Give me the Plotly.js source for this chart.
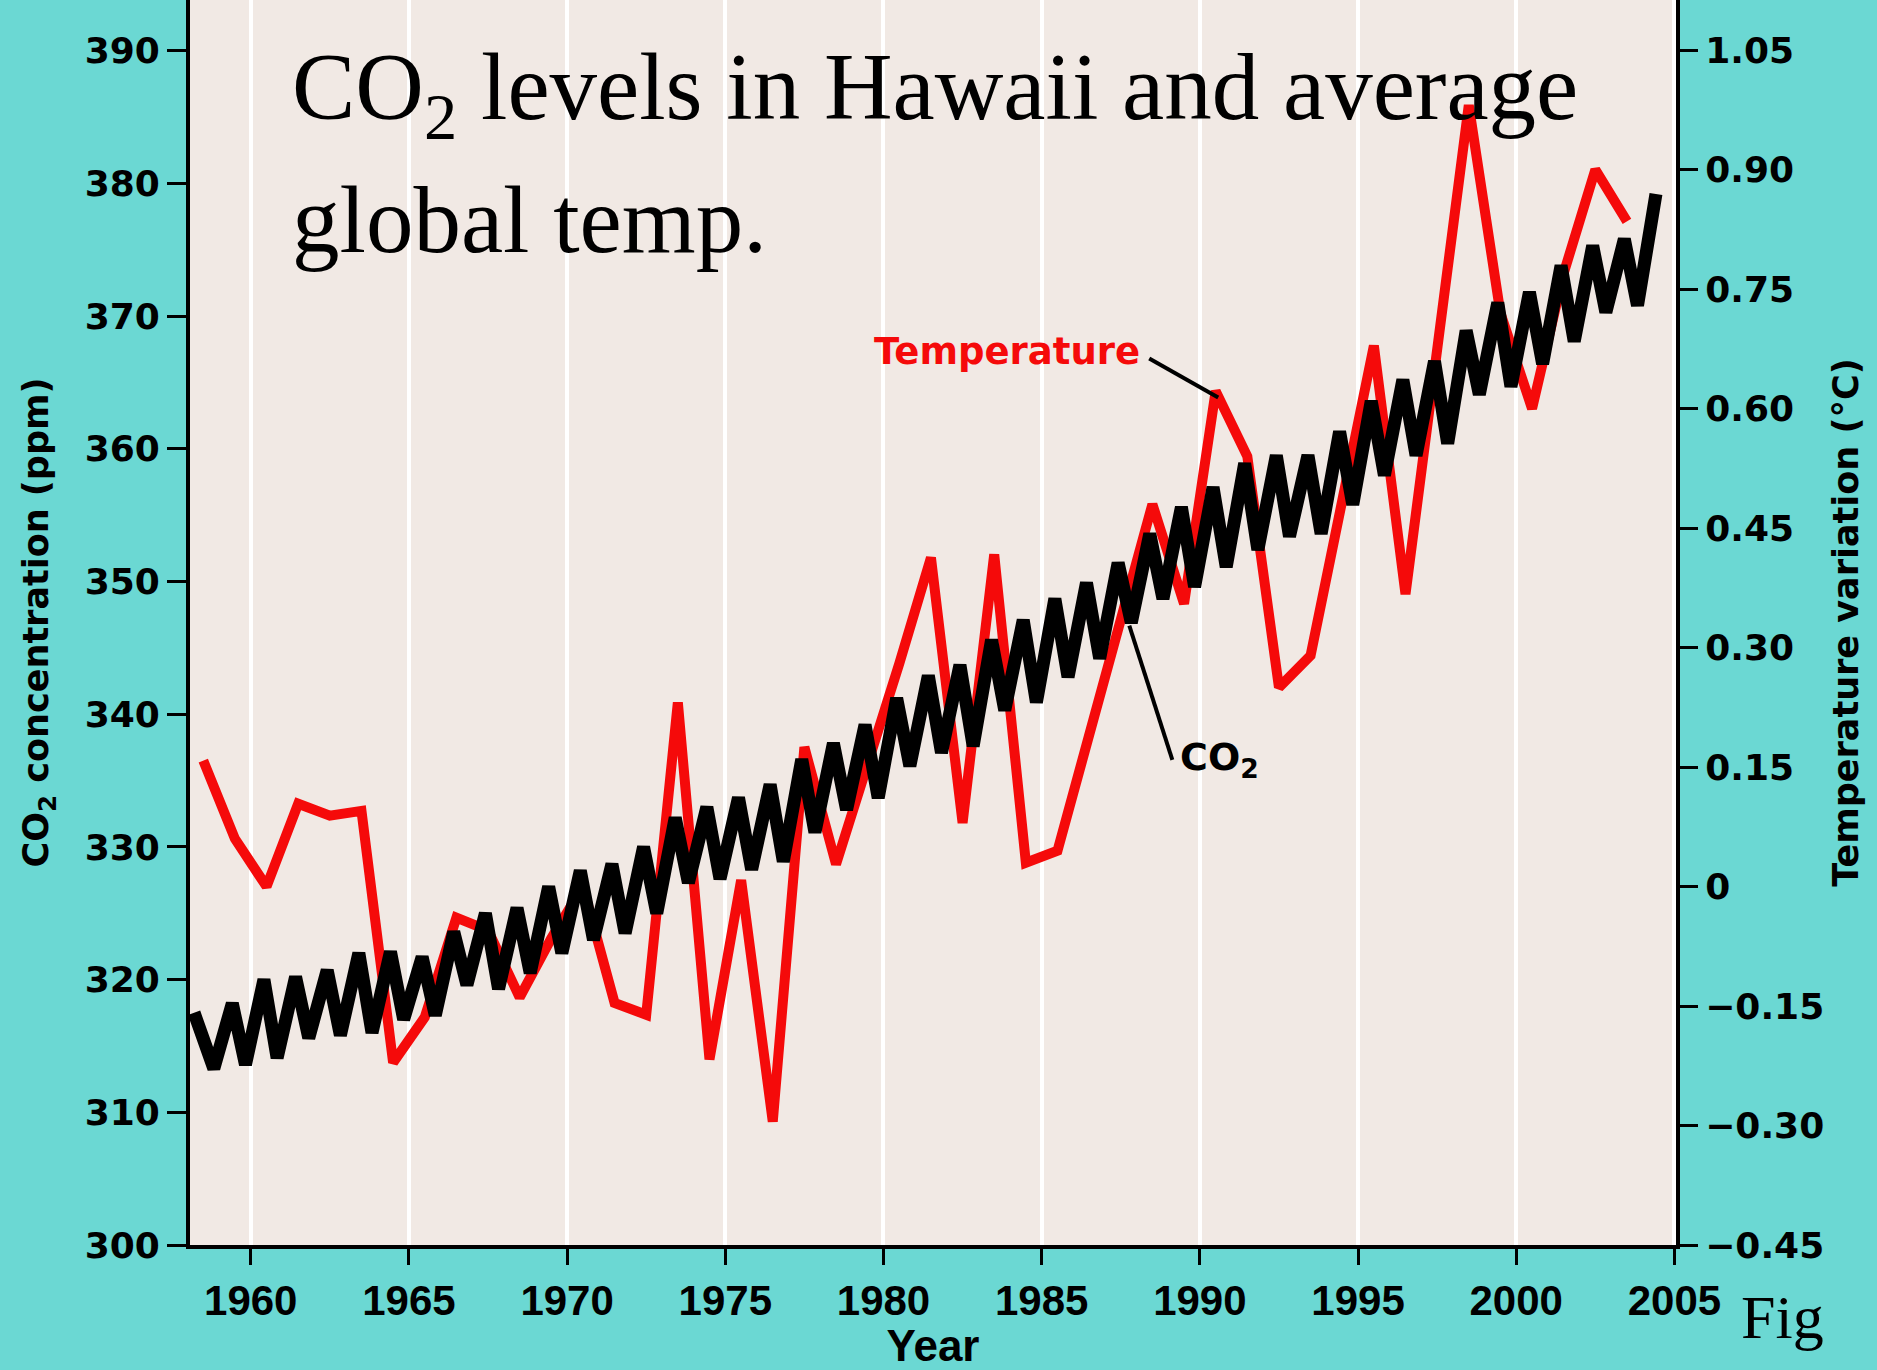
<!DOCTYPE html>
<html>
<head>
<meta charset="utf-8">
<script src="https://cdn.plot.ly/plotly-3.0.1.min.js"></script>
<style>
  html, body { margin: 0; padding: 0; background: #6bd8d3; }
  #chart { width: 1877px; height: 1370px; }
</style>
</head>
<body>
<div id="chart"></div>
<script>
// ---------------- DATA ----------------
// Mauna Loa CO2: one seasonal maximum (late May) and minimum (October) per year
const co2Years = [1958,1959,1960,1961,1962,1963,1964,1965,1966,1967,1968,1969,
  1970,1971,1972,1973,1974,1975,1976,1977,1978,1979,1980,1981,1982,1983,1984,
  1985,1986,1987,1988,1989,1990,1991,1992,1993,1994,1995,1996,1997,1998,1999,
  2000,2001,2002,2003,2004];
const co2Max = [317.5,318.2,320.0,320.2,320.7,322.0,322.1,321.7,323.6,325.0,325.4,327.0,
  328.2,328.7,330.0,332.2,333.0,333.7,334.7,336.6,337.8,339.2,341.2,342.9,343.7,345.6,347.1,
  348.7,349.9,351.4,353.6,355.6,357.1,358.9,359.5,359.5,361.3,363.6,365.2,366.6,368.9,371.0,
  371.8,373.8,375.3,375.8,379.2];
const co2Min = [313.3,313.6,314.1,315.6,315.8,316.0,317.0,317.3,319.6,319.3,320.5,322.0,
  323.0,323.5,325.0,327.3,327.6,328.3,328.9,331.1,332.8,333.7,336.1,337.1,337.6,340.3,340.9,
  342.8,344.2,346.9,348.7,349.6,351.1,352.4,353.4,353.6,355.8,358.0,359.5,360.4,364.1,364.7,
  366.4,368.1,370.3,370.8,null];
const co2FirstMonth = 2.5;   // record starts in March 1958
const co2MaxMonth = 5;       // seasonal peak
const co2MinMonth = 10;      // seasonal trough

// Average global temperature variation (°C), annual values
const tempYears = [1958,1959,1960,1961,1962,1963,1964,1965,1966,1967,1968,1969,
  1970,1971,1972,1973,1974,1975,1976,1977,1978,1979,1980,1981,1982,1983,1984,
  1985,1986,1987,1988,1989,1990,1991,1992,1993,1994,1995,1996,1997,1998,1999,
  2000,2001,2002,2003];
const tempValues = [0.158,0.06,0.0,0.104,0.089,0.095,-0.221,-0.164,-0.039,-0.055,-0.139,-0.065,
  0.0,-0.146,-0.161,0.231,-0.217,0.008,-0.295,0.175,0.028,0.15,0.28,0.413,0.08,0.417,0.03,
  0.045,0.19,0.335,0.48,0.355,0.622,0.54,0.25,0.29,0.48,0.679,0.367,0.67,0.981,0.72,
  0.60,0.77,0.90,0.835];

// Tick labels
const xTickVals = [1960,1965,1970,1975,1980,1985,1990,1995,2000,2005];
const xTickText = ['1960','1965','1970','1975','1980','1985','1990','1995','2000','2005'];
const co2TickVals = [300,310,320,330,340,350,360,370,380,390];
const co2TickText = ['300','310','320','330','340','350','360','370','380','390'];
const tempTickVals = [-0.45,-0.30,-0.15,0,0.15,0.30,0.45,0.60,0.75,0.90,1.05];
const tempTickText = ['\u22120.45','\u22120.30','\u22120.15','0','0.15','0.30','0.45','0.60','0.75','0.90','1.05'];

// ---------------- BUILD SERIES ----------------
const co2X = [], co2Y = [];
co2Years.forEach((yr, i) => {
  const mMax = (i === 0) ? co2FirstMonth : co2MaxMonth;
  co2X.push(yr + mMax / 12); co2Y.push(co2Max[i]);
  if (co2Min[i] !== null) { co2X.push(yr + co2MinMonth / 12); co2Y.push(co2Min[i]); }
});
const tempX = tempYears.map(y => y + 0.5);

const RED = '#f50a0a';
const CYAN = '#6bd8d3';
const PLOTBG = '#f1e9e4';

const traces = [
  { x: tempX, y: tempValues, type: 'scatter', mode: 'lines', yaxis: 'y',
    name: 'Temperature', line: { color: RED, width: 10 }, hoverinfo: 'x+y' },
  { x: co2X, y: co2Y, type: 'scatter', mode: 'lines', yaxis: 'y2',
    name: 'CO2', line: { color: '#000000', width: 13 }, hoverinfo: 'x+y' }
];

const sansBold = (size, color) => ({ family: 'DejaVu Sans, Arial, sans-serif', size: size, color: color || '#000', weight: 'bold' });
const narrowBold = (size) => ({ family: 'Liberation Sans, Arial, sans-serif', size: size, color: '#000', weight: 'bold' });
const serif = (size) => ({ family: 'Liberation Serif, Times New Roman, serif', size: size, color: '#000' });

const layout = {
  width: 1877, height: 1370,
  margin: { l: 190, r: 201, t: 0, b: 125, pad: 0 },
  paper_bgcolor: CYAN, plot_bgcolor: PLOTBG,
  showlegend: false,
  xaxis: {
    range: [1958.08, 2005.05], tickvals: xTickVals, ticktext: xTickText,
    showgrid: true, gridcolor: '#ffffff', gridwidth: 4, zeroline: false,
    ticks: 'outside', ticklen: 16, tickwidth: 3, tickcolor: '#000',
    showline: true, linecolor: '#000', linewidth: 4,
    tickfont: narrowBold(42),
    title: { text: 'Year', font: narrowBold(44), standoff: 14 }
  },
  yaxis: {
    side: 'right', range: [-0.45, 1.113],
    tickvals: tempTickVals, ticktext: tempTickText,
    showgrid: false, zeroline: false,
    ticks: 'outside', ticklen: 18, tickwidth: 3, tickcolor: '#000',
    showline: true, linecolor: '#000', linewidth: 4,
    tickfont: sansBold(36),
    title: { text: 'Temperature variation (\u00B0C)', font: sansBold(35), standoff: 11 }
  },
  yaxis2: {
    side: 'left', overlaying: 'y', anchor: 'x', range: [300, 393.82],
    tickvals: co2TickVals, ticktext: co2TickText,
    showgrid: false, zeroline: false,
    ticks: 'outside', ticklen: 19, tickwidth: 3, tickcolor: '#000',
    showline: true, linecolor: '#000', linewidth: 4,
    tickfont: sansBold(36),
    title: { text: 'CO<sub>2</sub> concentration (ppm)', font: sansBold(35), standoff: 26 }
  },
  shapes: [
    { type: 'line', xref: 'x', yref: 'y', x0: 1988.40, y0: 0.663, x1: 1990.58, y1: 0.614,
      line: { color: '#000', width: 4 } },
    { type: 'line', xref: 'x', yref: 'y2', x0: 1989.13, y0: 336.55, x1: 1987.77, y1: 346.68,
      line: { color: '#000', width: 4 } }
  ],
  annotations: [
    { text: 'CO<sub>2</sub> levels in Hawaii and average', xref: 'paper', yref: 'paper',
      x: 0.067, y: 0.9245, xanchor: 'left', yanchor: 'middle', showarrow: false, font: serif(95) },
    { text: 'global temp.', xref: 'paper', yref: 'paper',
      x: 0.067, y: 0.8231, xanchor: 'left', yanchor: 'middle', showarrow: false, font: serif(95) },
    { text: 'Temperature', xref: 'x', yref: 'y', x: 1983.89, y: 0.6714,
      xanchor: 'center', yanchor: 'middle', showarrow: false, font: sansBold(37, RED) },
    { text: 'CO<sub>2</sub>', xref: 'x', yref: 'y2', x: 1989.30, y: 336.6,
      xanchor: 'left', yanchor: 'middle', showarrow: false, font: sansBold(38) },
    { text: 'Fig', xref: 'paper', yref: 'paper', x: 1.0424, y: -0.0578,
      xanchor: 'left', yanchor: 'middle', showarrow: false, font: serif(62) }
  ]
};

Plotly.newPlot('chart', traces, layout, { displayModeBar: false, staticPlot: true });
</script>
</body>
</html>
